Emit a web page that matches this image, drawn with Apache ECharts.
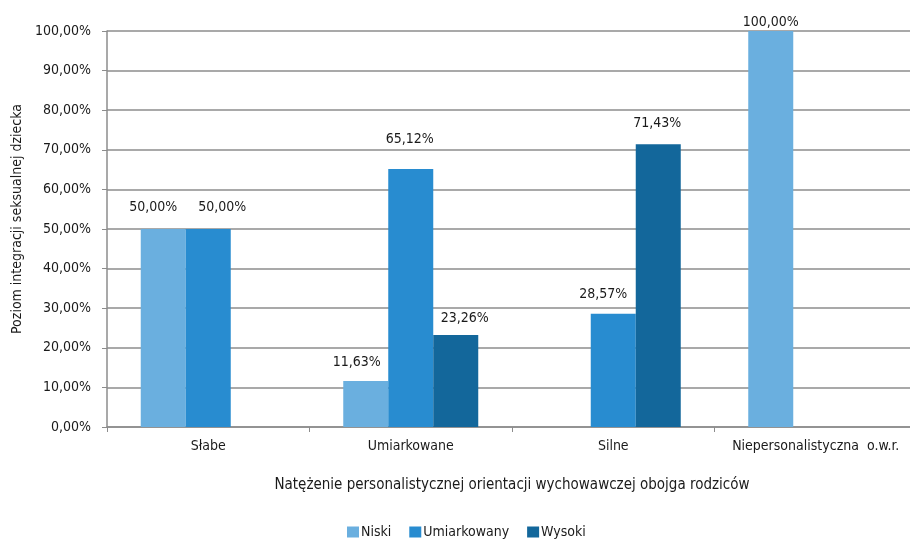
<!DOCTYPE html>
<html>
<head>
<meta charset="utf-8">
<script src="https://cdn.jsdelivr.net/npm/echarts@6/dist/echarts.min.js"></script>
<style>
  html, body { margin: 0; padding: 0; background: #fff; }
  #chart { width: 910px; height: 539px; }
</style>
</head>
<body>
<div id="chart"></div>
<script>
// Categories on the x axis
const categories = ['Słabe', 'Umiarkowane', 'Silne', 'Niepersonalistyczna  o.w.r.'];
// Series names
const seriesNames = ['Niski', 'Umiarkowany', 'Wysoki'];
// Percent values per series (null = no bar)
const niski = [50.00, 11.63, null, 100.00];
const umiarkowany = [50.00, 65.12, 28.57, null];
const wysoki = [null, 23.26, 71.43, null];
const colors = ['#6aafdf', '#288cd0', '#13679b'];

// Hand-placed value labels: [dx, dy] nudges per bar, so neighbouring labels don't collide
const labelNudges = [
  [[-10, -15], [-9, -12], null, [0, -2]],
  [[14, -15], [-1, -23], [-10, -13], null],
  [null, [9, -10], [-1, -14], null]
];

const FONT = '"DejaVu Sans Condensed", "Liberation Sans Narrow", sans-serif';
const fmt = v => v.toFixed(2).replace('.', ',') + '%';

const chart = echarts.init(document.getElementById('chart'), null, { renderer: 'canvas' });

function bar(idx, data) {
  return {
    name: seriesNames[idx],
    type: 'bar',
    barWidth: 45,
    barGap: '0%',
    barCategoryGap: '33%',
    itemStyle: { color: colors[idx] },
    label: {
      show: true,
      position: 'top',
      distance: 0,
      color: '#1a1a1a',
      fontFamily: FONT,
      fontSize: 14,
      formatter: p => (p.value == null ? '' : fmt(p.value))
    },
    data: data.map((v, i) => {
      const n = labelNudges[idx][i];
      return n ? { value: v, label: { offset: n } } : v;
    })
  };
}

chart.setOption({
  animation: false,
  textStyle: { fontFamily: FONT },
  grid: { left: 107, width: 810, top: 31, bottom: 112, containLabel: false, outerBoundsMode: 'none' },
  legend: {
    data: seriesNames,
    top: 520,
    left: 342,
    itemWidth: 12,
    itemHeight: 11,
    itemGap: 18,
    icon: 'rect',
    textStyle: { fontFamily: FONT, fontSize: 14, color: '#1a1a1a', padding: [0, 0, 0, -3] }
  },
  xAxis: {
    type: 'category',
    data: categories,
    name: 'Natężenie personalistycznej orientacji wychowawczej obojga rodziców',
    nameLocation: 'middle',
    nameGap: 51,
    nameTextStyle: { fontFamily: FONT, fontSize: 15, color: '#1a1a1a' },
    axisLine: { lineStyle: { color: '#8c8c8c', width: 1.5 } },
    axisTick: { show: true, length: 5, lineStyle: { color: '#8c8c8c' } },
    axisLabel: { interval: 0, fontFamily: FONT, fontSize: 14, color: '#1a1a1a', margin: 12 }
  },
  yAxis: {
    type: 'value',
    min: 0,
    max: 100,
    interval: 10,
    name: 'Poziom integracji seksualnej dziecka',
    nameLocation: 'middle',
    nameGap: 82,
    nameTextStyle: { fontFamily: FONT, fontSize: 14, color: '#1a1a1a', padding: [0, 0, 0, 20] },
    axisLine: { show: true, lineStyle: { color: '#8c8c8c', width: 1.5 } },
    axisTick: { show: true, length: 5, lineStyle: { color: '#8c8c8c' } },
    splitLine: { lineStyle: { color: '#8c8c8c', width: 1.5 } },
    axisLabel: {
      fontFamily: FONT, fontSize: 14, color: '#1a1a1a', margin: 16,
      formatter: v => fmt(v)
    }
  },
  series: [
    bar(0, niski),
    bar(1, umiarkowany),
    bar(2, wysoki)
  ]
});
</script>
</body>
</html>
